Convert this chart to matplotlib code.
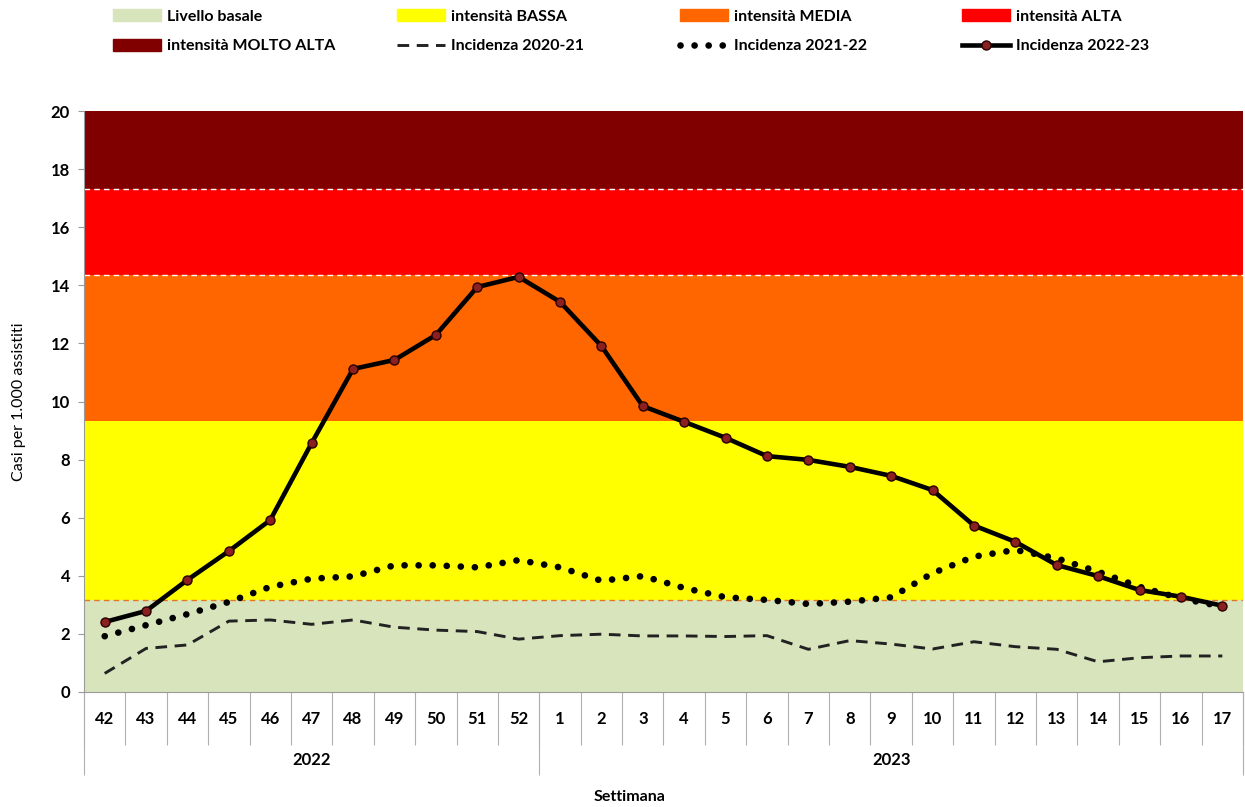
import numpy as np
import matplotlib.pyplot as plt
from matplotlib.patches import Patch
from matplotlib.lines import Line2D

plt.rcParams['font.family'] = ['Lato', 'DejaVu Sans']
plt.rcParams['font.weight'] = 'bold'

# settimane (2022: 42-52, 2023: 1-17)
weeks = [str(w) for w in range(42, 53)] + [str(w) for w in range(1, 18)]
years = ['2022', '2023']
n_2022 = 11

# soglie di intensita
soglie = [0, 3.16, 9.34, 14.37, 17.33, 20]
band_labels = ['Livello basale', 'intensità BASSA', 'intensità MEDIA',
               'intensità ALTA', 'intensità MOLTO ALTA']
band_colors = ['#d8e4bc', '#ffff00', '#ff6600', '#ff0000', '#800000']

# incidenza per stagione
inc_2020_21 = [0.64, 1.50, 1.62, 2.44, 2.48, 2.33, 2.48, 2.23, 2.13, 2.08, 1.82,
               1.94, 1.99, 1.93, 1.93, 1.91, 1.94, 1.47, 1.77, 1.65, 1.48, 1.73,
               1.56, 1.47, 1.04, 1.18, 1.24, 1.24]
inc_2021_22 = [1.92, 2.30, 2.68, 3.10, 3.62, 3.90, 3.98, 4.36, 4.36, 4.29, 4.54,
               4.29, 3.83, 3.99, 3.58, 3.26, 3.17, 3.03, 3.11, 3.26, 4.09, 4.66,
               4.89, 4.60, 4.14, 3.62, 3.22, 2.94]
inc_2022_23 = [2.41, 2.79, 3.86, 4.85, 5.92, 8.57, 11.12, 11.43, 12.29, 13.94, 14.29,
               13.43, 11.91, 9.84, 9.30, 8.75, 8.12, 7.99, 7.75, 7.44, 6.95, 5.73,
               5.17, 4.37, 3.99, 3.51, 3.28, 2.97]

x = np.arange(len(weeks))

fig = plt.figure(figsize=(12.45, 8.07), dpi=100)
ax = fig.add_axes([84/1245, 1 - 692/807, (1243 - 84)/1245, (692 - 111)/807])

# fasce colorate
for lo, hi, c in zip(soglie[:-1], soglie[1:], band_colors):
    ax.axhspan(lo, hi, color=c, lw=0, zorder=0)
ax.axhline(soglie[1], color='#e07a20', lw=1, ls=(0, (4, 3)), zorder=1)
ax.axhline(soglie[3], color='white', lw=1, ls=(0, (4, 3)), zorder=1)
ax.axhline(soglie[4], color='white', lw=1, ls=(0, (4, 3)), zorder=1)

# curve
ax.plot(x, inc_2020_21, color='#222222', lw=2.1, ls=(0, (4, 2.6)), zorder=2)
ax.plot(x, inc_2021_22, color='black', lw=4.8, ls=(0, (0.01, 2.1)),
        dash_capstyle='round', zorder=3)
ax.plot(x, inc_2022_23, color='black', lw=3.3, marker='o', ms=6.5,
        mfc='#8b2020', mec='#2a0000', mew=1, zorder=4)

ax.set_xlim(-0.5, len(weeks) - 0.5)
ax.set_ylim(0, 20)
ax.set_yticks(range(0, 21, 2))
ax.tick_params(axis='y', labelsize=12, colors='#9a9a9a', labelcolor='black',
               length=4, pad=6)
for s in ['top', 'right']:
    ax.spines[s].set_visible(False)
ax.spines['left'].set_color('#9a9a9a')
ax.spines['bottom'].set_color('#9a9a9a')

# asse x: settimane
bounds = np.arange(len(weeks) + 1) - 0.5
ax.set_xticks(bounds)
ax.set_xticklabels([])
ax.tick_params(axis='x', which='major', length=38, color='#b0b0b0', width=0.8)
ax.set_xticks(x, labels=weeks, minor=True)
ax.tick_params(axis='x', which='minor', length=0, pad=14, labelsize=12)

# asse x: anni
sec = ax.secondary_xaxis('bottom')
sec.set_xticks([-0.5, n_2022 - 0.5, len(weeks) - 0.5])
sec.set_xticklabels([])
sec.tick_params(axis='x', which='major', length=60, color='#b0b0b0', width=0.8)
sec.set_xticks([(n_2022 - 1) / 2, n_2022 + (len(weeks) - n_2022 - 1) / 2],
               labels=years, minor=True)
sec.tick_params(axis='x', which='minor', length=0, pad=43, labelsize=12)
sec.spines['bottom'].set_visible(False)

ax.set_ylabel('Casi per 1.000 assistiti', fontsize=11.5, labelpad=18)
fig.text(630/1245, 1 - 797/807, 'Settimana', ha='center', va='center', fontsize=11.5)

# legenda
handles = [Patch(color=c) for c in band_colors]
handles += [Line2D([], [], color='#222222', lw=2.1, ls=(0, (4, 2.6))),
            Line2D([], [], color='black', lw=4.8, ls=(0, (0.01, 2.1)),
                   dash_capstyle='round'),
            Line2D([], [], color='black', lw=3.3, marker='o', ms=6.5,
                   mfc='#8b2020', mec='#2a0000', mew=1)]
labels = band_labels + ['Incidenza 2020-21', 'Incidenza 2021-22', 'Incidenza 2022-23']
col_x = [113, 397, 680, 962]
for i, cx in enumerate(col_x):
    idx = [i, i + 4]
    leg = fig.legend([handles[j] for j in idx], [labels[j] for j in idx],
                     loc='upper left', bbox_to_anchor=(cx/1245, 1 - 9/807),
                     frameon=False, fontsize=11.5, handlelength=3.0,
                     handleheight=0.8, handletextpad=0.35, labelspacing=0.95,
                     borderpad=0, borderaxespad=0)

fig.savefig('out.png', dpi=100)
